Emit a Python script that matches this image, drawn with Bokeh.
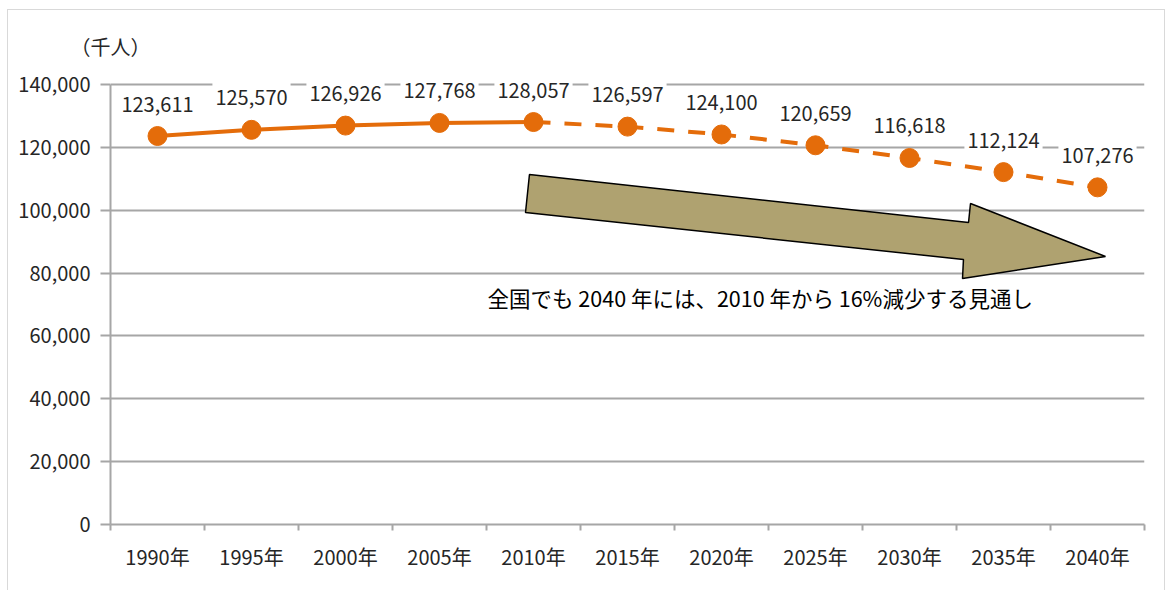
from bokeh.plotting import figure
from bokeh.models import FixedTicker
from bokeh.models import Label
from bokeh.core.properties import value
from bokeh.embed import file_html
from bokeh.resources import INLINE

years = ["1990年", "1995年", "2000年", "2005年", "2010年", "2015年",
         "2020年", "2025年", "2030年", "2035年", "2040年"]
population = [123611, 125570, 126926, 127768, 128057, 126597,
              124100, 120659, 116618, 112124, 107276]
split_index = 4  # 2010: actual up to here, projection afterwards
y_ticks = [0, 20000, 40000, 60000, 80000, 100000, 120000, 140000]
unit_label = "（千人）"
note_text = "全国でも 2040 年には、2010 年から 16%減少する見通し"

FONT = "Noto Sans CJK JP"
ORANGE = "#E46C0A"
GRID = "#A6A6A6"
TXT = "#262626"

xs = list(range(len(years)))

p = figure(width=1158, height=582, output_backend="svg", toolbar_location=None,
           x_range=(-0.5, len(years) - 0.5), y_range=(0, 145091),
           min_border_left=102, min_border_right=22, min_border_top=58,
           min_border_bottom=68, outline_line_color=None)
p.styles = {"border": "1px solid #D9D9D9", "margin-left": "7px", "margin-top": "9px"}

p.title.text = unit_label
p.title.align = "left"
p.title.offset = -40
p.title.standoff = 16
p.title.text_font = FONT
p.title.text_font_size = "20px"
p.title.text_font_style = "normal"
p.title.text_color = TXT

# axes
p.xaxis.ticker = FixedTicker(ticks=xs, minor_ticks=[i - 0.5 for i in range(len(years) + 1)])
p.xaxis.major_label_overrides = {i: y for i, y in enumerate(years)}
p.xaxis.major_tick_out = 0
p.xaxis.major_tick_in = 0
p.xaxis.minor_tick_out = 6
p.xaxis.minor_tick_in = 0
p.xaxis.minor_tick_line_color = GRID
p.xaxis.minor_tick_line_width = 2
p.xaxis.axis_line_color = GRID
p.xaxis.axis_line_width = 2
p.xaxis.major_label_standoff = 11
p.xaxis.major_label_text_font = FONT
p.xaxis.major_label_text_font_size = "20px"
p.xaxis.major_label_text_color = TXT

p.yaxis.ticker = FixedTicker(ticks=y_ticks)
p.yaxis.bounds = (0, 140000)
p.yaxis.major_label_overrides = {t: f"{t:,}" for t in y_ticks}
p.yaxis.major_tick_out = 10
p.yaxis.major_tick_in = 0
p.yaxis.minor_tick_out = 0
p.yaxis.minor_tick_in = 0
p.yaxis.major_tick_line_color = GRID
p.yaxis.major_tick_line_width = 2
p.yaxis.axis_line_color = GRID
p.yaxis.axis_line_width = 2
p.yaxis.major_label_standoff = 10
p.yaxis.major_label_text_font = FONT
p.yaxis.major_label_text_font_size = "20px"
p.yaxis.major_label_text_color = TXT

p.xgrid.grid_line_color = None
p.ygrid.ticker = FixedTicker(ticks=y_ticks)
p.ygrid.grid_line_color = GRID
p.ygrid.grid_line_width = 2

# arrow annotation (data units)
arrow_x = [3.957, 8.628, 8.649, 10.085, 8.564, 8.574, 3.915]
arrow_y = [111364, 96091, 102136, 85273, 78273, 84318, 99273]
p.patch(arrow_x, arrow_y, fill_color="#AFA270", line_color="black", line_width=1.5)

# lines
p.line(xs[:split_index + 1], population[:split_index + 1], line_color=ORANGE, line_width=4)
p.line(xs[split_index:], population[split_index:], line_color=ORANGE, line_width=4,
       line_dash="17 14")
p.scatter(xs, population, size=19, fill_color=ORANGE, line_color=ORANGE)

# data labels
p.text(xs, population, text=[f"{v:,}" for v in population], y_offset=-32,
       text_align="center", text_baseline="middle", text_font=value(FONT),
       text_font_size="20px", text_color=TXT, background_fill_color="white",
       padding=[3, 8])

p.add_layout(Label(x=3.511, y=72227, text=note_text, text_font=FONT,
                   text_font_size="21.5px", text_color="black",
                   text_baseline="middle", text_align="left"))

open("out.html", "w").write(file_html(p, INLINE))
